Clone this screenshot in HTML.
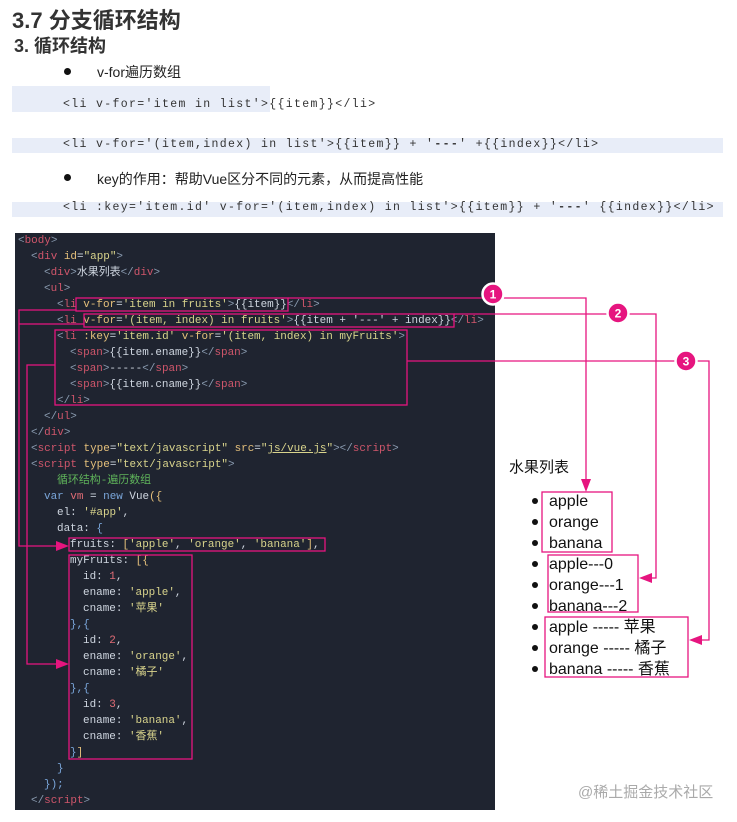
<!DOCTYPE html>
<html><head><meta charset="utf-8"><style>
*{margin:0;padding:0;box-sizing:border-box}
body{width:737px;height:822px;background:#fff;position:relative;overflow:hidden;font-family:"Liberation Sans","Noto Sans CJK SC",sans-serif}
.a{position:absolute;white-space:pre}
.band{position:absolute;background:#e8edf8}
.mono{font-family:"Liberation Mono","Noto Sans CJK SC",monospace;font-size:11.5px;letter-spacing:1.35px;color:#333}
#code{position:absolute;left:15px;top:233px;width:480px;height:577px;background:#1f2430}
.cl{position:absolute;left:0;height:16px;line-height:16px;white-space:pre;font-family:"Liberation Mono","Noto Sans CJK SC",monospace;font-size:10.95px;color:#cfd6e0}
.p{color:#8a9bb0}.t{color:#d0566b}.at{color:#e5c07b}.s{color:#d9d48c}.c{color:#5fb35a}.k{color:#7aa6da}.n{color:#e06c75}
.li{position:absolute;left:549px;font-size:16px;color:#111;line-height:21px;white-space:pre}
.dot{position:absolute;left:532px;width:6px;height:6px;border-radius:50%;background:#111}
</style></head><body>
<div class="a" style="left:12px;top:3px;font-size:22px;font-weight:bold;color:#333">3.7 分支循环结构</div>
<div class="a" style="left:14px;top:32px;font-size:18px;font-weight:bold;color:#333">3. 循环结构</div>
<div class="a" style="left:64px;top:68px;width:7px;height:7px;border-radius:50%;background:#111"></div>
<div class="a" style="left:97px;top:62px;font-size:14px;color:#222">v-for遍历数组</div>
<div class="band" style="left:12px;top:86px;width:258px;height:26px"></div>
<div class="a mono" style="left:63px;top:98px">&lt;li v-for='item in list'&gt;{{item}}&lt;/li&gt;</div>
<div class="band" style="left:12px;top:138px;width:711px;height:15px"></div>
<div class="a mono" style="left:63px;top:138px">&lt;li v-for='(item,index) in list'&gt;{{item}} + '<b>---</b>' +{{index}}&lt;/li&gt;</div>
<div class="a" style="left:64px;top:174px;width:7px;height:7px;border-radius:50%;background:#111"></div>
<div class="a" style="left:97px;top:169px;font-size:14px;color:#222">key的作用：帮助Vue区分不同的元素，从而提高性能</div>
<div class="band" style="left:12px;top:202px;width:711px;height:15px"></div>
<div class="a mono" style="left:63px;top:201px">&lt;li :key='item.id' v-for='(item,index) in list'&gt;{{item}} + '<b>---</b>' {{index}}&lt;/li&gt;</div>

<div id="code">
<div class="cl" style="top:0;left:3px"><span class="p">&lt;</span><span class="t">body</span><span class="p">&gt;</span></div>
<div class="cl" style="top:16px;left:16px"><span class="p">&lt;</span><span class="t">div</span> <span class="at">id</span>=<span class="s">"app"</span><span class="p">&gt;</span></div>
<div class="cl" style="top:32px;left:29px"><span class="p">&lt;</span><span class="t">div</span><span class="p">&gt;</span>水果列表<span class="p">&lt;/</span><span class="t">div</span><span class="p">&gt;</span></div>
<div class="cl" style="top:48px;left:29px"><span class="p">&lt;</span><span class="t">ul</span><span class="p">&gt;</span></div>
<div class="cl" style="top:64px;left:42px"><span class="p">&lt;</span><span class="t">li</span> <span class="at">v-for</span>=<span class="s">'item in fruits'</span><span class="p">&gt;</span>{{item}}<span class="p">&lt;/</span><span class="t">li</span><span class="p">&gt;</span></div>
<div class="cl" style="top:80px;left:42px"><span class="p">&lt;</span><span class="t">li</span> <span class="at">v-for</span>=<span class="s">'(item, index) in fruits'</span><span class="p">&gt;</span>{{item + '---' + index}}<span class="p">&lt;/</span><span class="t">li</span><span class="p">&gt;</span></div>
<div class="cl" style="top:96px;left:42px"><span class="p">&lt;</span><span class="t">li</span> <span class="at">:key</span>=<span class="s">'item.id'</span> <span class="at">v-for</span>=<span class="s">'(item, index) in myFruits'</span><span class="p">&gt;</span></div>
<div class="cl" style="top:112px;left:55px"><span class="p">&lt;</span><span class="t">span</span><span class="p">&gt;</span>{{item.ename}}<span class="p">&lt;/</span><span class="t">span</span><span class="p">&gt;</span></div>
<div class="cl" style="top:128px;left:55px"><span class="p">&lt;</span><span class="t">span</span><span class="p">&gt;</span>-----<span class="p">&lt;/</span><span class="t">span</span><span class="p">&gt;</span></div>
<div class="cl" style="top:144px;left:55px"><span class="p">&lt;</span><span class="t">span</span><span class="p">&gt;</span>{{item.cname}}<span class="p">&lt;/</span><span class="t">span</span><span class="p">&gt;</span></div>
<div class="cl" style="top:160px;left:42px"><span class="p">&lt;/</span><span class="t">li</span><span class="p">&gt;</span></div>
<div class="cl" style="top:176px;left:29px"><span class="p">&lt;/</span><span class="t">ul</span><span class="p">&gt;</span></div>
<div class="cl" style="top:192px;left:16px"><span class="p">&lt;/</span><span class="t">div</span><span class="p">&gt;</span></div>
<div class="cl" style="top:208px;left:16px"><span class="p">&lt;</span><span class="t">script</span> <span class="at">type</span>=<span class="s">"text/javascript"</span> <span class="at">src</span>=<span class="s">"<u>js/vue.js</u>"</span><span class="p">&gt;&lt;/</span><span class="t">script</span><span class="p">&gt;</span></div>
<div class="cl" style="top:224px;left:16px"><span class="p">&lt;</span><span class="t">script</span> <span class="at">type</span>=<span class="s">"text/javascript"</span><span class="p">&gt;</span></div>
<div class="cl" style="top:240px;left:42px"><span class="c">循环结构-遍历数组</span></div>
<div class="cl" style="top:256px;left:29px"><span class="k">var</span> <span class="n">vm</span> = <span class="k">new</span> Vue<span class="at">({</span></div>
<div class="cl" style="top:272px;left:42px">el: <span class="s">'#app'</span>,</div>
<div class="cl" style="top:288px;left:42px">data: <span class="k">{</span></div>
<div class="cl" style="top:304px;left:55px">fruits: <span class="at">[</span><span class="s">'apple'</span>, <span class="s">'orange'</span>, <span class="s">'banana'</span><span class="at">]</span>,</div>
<div class="cl" style="top:320px;left:55px">myFruits: <span class="at">[{</span></div>
<div class="cl" style="top:336px;left:68px">id: <span class="n">1</span>,</div>
<div class="cl" style="top:352px;left:68px">ename: <span class="s">'apple'</span>,</div>
<div class="cl" style="top:368px;left:68px">cname: <span class="s">'苹果'</span></div>
<div class="cl" style="top:384px;left:55px"><span class="k">},{</span></div>
<div class="cl" style="top:400px;left:68px">id: <span class="n">2</span>,</div>
<div class="cl" style="top:416px;left:68px">ename: <span class="s">'orange'</span>,</div>
<div class="cl" style="top:432px;left:68px">cname: <span class="s">'橘子'</span></div>
<div class="cl" style="top:448px;left:55px"><span class="k">},{</span></div>
<div class="cl" style="top:464px;left:68px">id: <span class="n">3</span>,</div>
<div class="cl" style="top:480px;left:68px">ename: <span class="s">'banana'</span>,</div>
<div class="cl" style="top:496px;left:68px">cname: <span class="s">'香蕉'</span></div>
<div class="cl" style="top:512px;left:55px"><span class="k">}</span><span class="at">]</span></div>
<div class="cl" style="top:528px;left:42px"><span class="k">}</span></div>
<div class="cl" style="top:544px;left:29px"><span class="k">});</span></div>
<div class="cl" style="top:560px;left:16px"><span class="p">&lt;/</span><span class="t">script</span><span class="p">&gt;</span></div>
</div>

<div class="a" style="left:509px;top:456px;font-size:15px;color:#111">水果列表</div>
<div class="dot" style="top:498px"></div><div class="li" style="top:491px">apple</div>
<div class="dot" style="top:519px"></div><div class="li" style="top:512px">orange</div>
<div class="dot" style="top:540px"></div><div class="li" style="top:533px">banana</div>
<div class="dot" style="top:561px"></div><div class="li" style="top:554px">apple---0</div>
<div class="dot" style="top:582px"></div><div class="li" style="top:575px">orange---1</div>
<div class="dot" style="top:603px"></div><div class="li" style="top:596px">banana---2</div>
<div class="dot" style="top:624px"></div><div class="li" style="top:617px">apple ----- 苹果</div>
<div class="dot" style="top:645px"></div><div class="li" style="top:638px">orange ----- 橘子</div>
<div class="dot" style="top:666px"></div><div class="li" style="top:659px">banana ----- 香蕉</div>

<svg width="737" height="822" style="position:absolute;left:0;top:0" fill="none" stroke="#e6157f" stroke-width="1.3">
<rect x="76" y="298" width="212" height="13"/>
<rect x="84" y="314" width="370" height="13"/>
<rect x="55" y="330" width="352" height="75"/>
<rect x="69" y="538" width="256" height="13"/>
<rect x="69" y="555" width="123" height="204"/>
<rect x="542" y="492" width="70" height="60"/>
<rect x="548" y="555" width="90" height="57"/>
<rect x="545" y="617" width="143" height="60"/>
<polyline points="76,310 19,310 19,546 62,546"/>
<polyline points="84,324 19,324"/>
<polyline points="55,365 27,365 27,664 62,664"/>
<polyline points="288,298 586,298 586,484"/>
<polyline points="454,314 656,314 656,578 648,578"/>
<polyline points="407,361 709,361 709,640 698,640"/>
<g fill="#e6157f" stroke="none">
<polygon points="69,546 56,541 56,551"/>
<polygon points="69,664 56,659 56,669"/>
<polygon points="586,492 581,479 591,479"/>
<polygon points="639,578 652,573 652,583"/>
<polygon points="689,640 702,635 702,645"/>
</g>
<g stroke="#fff" stroke-width="2.5" fill="#e6157f">
<circle cx="493" cy="294" r="10.5"/><circle cx="618" cy="313" r="10.5"/><circle cx="686" cy="361" r="10.5"/>
</g>
<g fill="#fff" stroke="none" font-family="Liberation Sans" font-weight="bold" font-size="12" text-anchor="middle">
<text x="493" y="298.5">1</text><text x="618" y="317.5">2</text><text x="686" y="365.5">3</text>
</g>
</svg>
<div class="a" style="left:578px;top:781px;font-size:15px;color:#aaa">@稀土掘金技术社区</div>
</body></html>
